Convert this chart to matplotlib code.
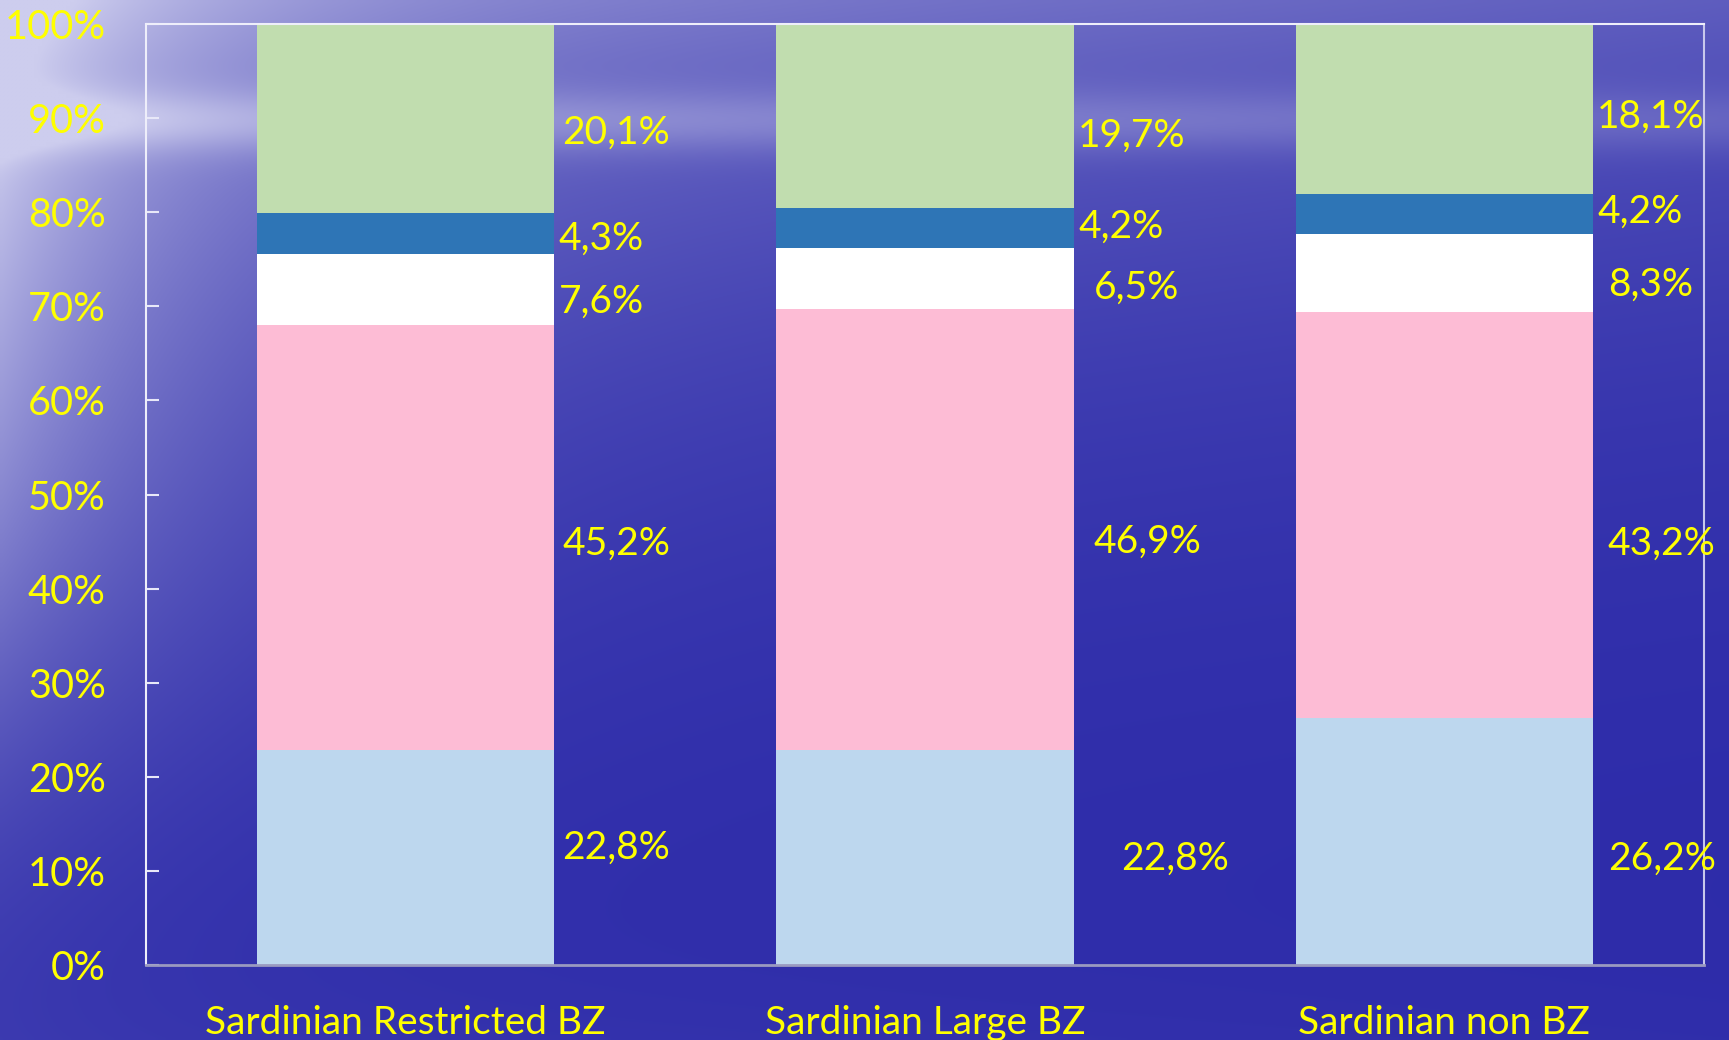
import numpy as np
import matplotlib
matplotlib.use("Agg")
import matplotlib.pyplot as plt

# ---- data ----
categories = ["Sardinian Restricted BZ", "Sardinian Large BZ", "Sardinian non BZ"]
# stacked from bottom to top
seg_light_blue = [22.8, 22.8, 26.2]
seg_pink = [45.2, 46.9, 43.2]
seg_white = [7.6, 6.5, 8.3]
seg_dark_blue = [4.3, 4.2, 4.2]
seg_green = [20.1, 19.7, 18.1]
y_ticks = [0, 10, 20, 30, 40, 50, 60, 70, 80, 90, 100]
y_tick_labels = [f"{v}%" for v in y_ticks]

series = [seg_light_blue, seg_pink, seg_white, seg_dark_blue, seg_green]
colors = ["#BDD7EE", "#FDBCD5", "#FFFFFF", "#2E75B6", "#C1DDAF"]

# label placement tweaks (styling): x gap from bar edge, y shift from segment centre
label_dx = [[0.015, 0.015, 0.009, 0.009, 0.015],
            [0.092, 0.039, 0.039, 0.009, 0.009],
            [0.029, 0.029, 0.029, 0.008, 0.008]]
label_dy = [[1.4, -0.3, -0.9, -0.15, -1.15],
            [0.3, -0.85, -0.65, 0.5, -1.75],
            [-1.4, -2.7, -0.85, 0.6, -0.45]]

FONT = "Lato"
YEL = "#FFFF00"
FS = 28
plt.rcParams["font.family"] = [FONT, "DejaVu Sans"]

fig = plt.figure(figsize=(17.29, 10.40), dpi=100)

# ---- background (ocean-like gradient) ----
bg = fig.add_axes([0, 0, 1, 1], zorder=-10)
H, W = 260, 432
t = np.linspace(0, 1, H)[:, None]
s = np.linspace(0, 1, W)[None, :]
dark = np.array([42, 40, 168]) / 255.0
light = np.array([205, 205, 238]) / 255.0
w = 0.58 * np.exp(-t / 0.3) * (1 - 0.45 * s)
w = w + 0.62 / (1 + np.exp((t - 0.62) / 0.14)) * np.exp(-s / 0.12)
w = w + 0.3 * np.exp(-((t - 0.115) / 0.03) ** 2) * (1 - 0.5 * s)
w = w + 0.05 * np.exp(-(1 - t) / 0.1) * (1 - 0.5 * s)
w = np.clip(w, 0, 1)
img = dark[None, None, :] * (1 - w[..., None]) + light[None, None, :] * w[..., None]
bg.imshow(img, aspect="auto", extent=[0, 1, 0, 1], interpolation="bilinear")
bg.set_axis_off()

# ---- main chart ----
ax = fig.add_axes([146 / 1729, 75 / 1040, (1704 - 146) / 1729, (965 - 24) / 1040])
ax.set_facecolor("none")
x = np.arange(len(categories))
bar_w = 0.572
bottom = np.zeros(len(categories))
for vals, col in zip(series, colors):
    ax.bar(x, vals, bar_w, bottom=bottom, color=col, edgecolor="none", zorder=2)
    bottom = bottom + np.array(vals)

# value labels
for i in range(len(categories)):
    base = 0.0
    for j, vals in enumerate(series):
        v = vals[i]
        yc = base + v / 2 + label_dy[i][j]
        ax.text(x[i] + bar_w / 2 + label_dx[i][j], yc, f"{v:.1f}%".replace(".", ","),
                color=YEL, fontsize=FS, ha="left", va="center_baseline", zorder=3)
        base += v

ax.set_xlim(-0.5, 2.5)
ax.set_ylim(0, 100)
ax.set_yticks(y_ticks)
ax.set_yticklabels(y_tick_labels)
ax.set_xticks(x)
ax.set_xticklabels(categories)
ax.tick_params(axis="y", direction="in", length=9.5, width=1.5, color="#E8E8F8",
               labelcolor=YEL, labelsize=FS + 0.5, pad=29)
ax.tick_params(axis="x", length=0, labelcolor=YEL, labelsize=FS, pad=29)

for side in ["left", "top"]:
    ax.spines[side].set_color("#EEEEFA")
    ax.spines[side].set_linewidth(1.5)
ax.spines["right"].set_color("#C8C8EC")
ax.spines["right"].set_linewidth(1.5)
ax.spines["bottom"].set_color("#9A9AC0")
ax.spines["bottom"].set_linewidth(2)

fig.savefig("out.png", dpi=100)
